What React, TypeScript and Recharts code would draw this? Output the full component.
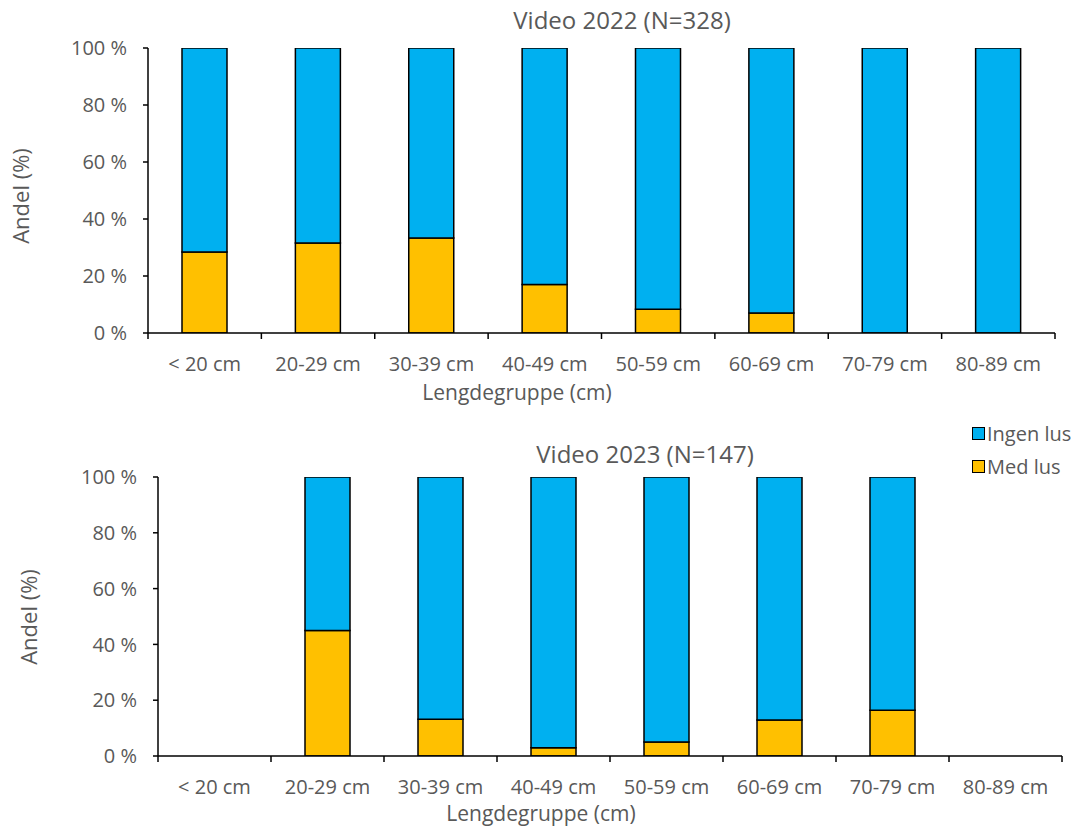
import React from "react"
import { BarChart, Bar, XAxis, YAxis, Legend, Label } from "recharts"

const categories = ["< 20 cm", "20-29 cm", "30-39 cm", "40-49 cm", "50-59 cm", "60-69 cm", "70-79 cm", "80-89 cm"]

const medLus2022 = [28.4, 31.6, 33.3, 17.0, 8.3, 7.0, 0, 0]
const ingenLus2022 = [71.6, 68.4, 66.7, 83.0, 91.7, 93.0, 100, 100]

const medLus2023 = [null, 45.0, 13.2, 3.0, 5.0, 12.9, 16.4, null]
const ingenLus2023 = [null, 55.0, 86.8, 97.0, 95.0, 87.1, 83.6, null]

const yTicks = [0, 20, 40, 60, 80, 100]

const BLUE = "#00B0F0"
const YELLOW = "#FFC000"
const TEXT = "#595959"
const FONT = "'Open Sans', sans-serif"

interface PanelProps {
  title: string
  med: (number | null)[]
  ingen: (number | null)[]
  height: number
  plotLeft: number
  plotRight: number
  plotTop: number
  plotBottom: number
  titleX: number
  titleY: number
  xLabelX: number
  xLabelY: number
  yLabelX: number
  yLabelY: number
  showLegend?: boolean
}

function LegendBox({ payload }: any) {
  const items = [...(payload ?? [])].sort((a: any, b: any) => String(a.value).localeCompare(String(b.value)))
  return (
    <div style={{ fontFamily: FONT, fontSize: 20, color: TEXT, whiteSpace: "nowrap" }}>
      {items.map((it: any) => (
        <div key={it.value} style={{ display: "flex", alignItems: "center", height: 33 }}>
          <span
            style={{
              display: "inline-block",
              width: 11,
              height: 11,
              background: it.color,
              border: "1.5px solid #000",
              marginRight: 2,
            }}
          />
          <span>{it.value}</span>
        </div>
      ))}
    </div>
  )
}

function Panel(p: PanelProps) {
  const data = categories.map((c, i) => ({ name: c, med: p.med[i], ingen: p.ingen[i] }))
  const bw = (p.plotRight - p.plotLeft) / categories.length
  const lastIndex = categories.length - 1

  const renderTick = (props: any) => {
    const { x, y, payload, index } = props
    return (
      <g>
        <line x1={x - bw / 2} x2={x - bw / 2} y1={y} y2={y + 6} stroke="#000" strokeWidth={1.5} />
        {index === lastIndex && (
          <line x1={x + bw / 2} x2={x + bw / 2} y1={y} y2={y + 6} stroke="#000" strokeWidth={1.5} />
        )}
        <text x={x} y={y + 38} textAnchor="middle" fill={TEXT} fontSize={20} fontFamily={FONT}>
          {payload.value}
        </text>
      </g>
    )
  }

  return (
    <BarChart
      width={1078}
      height={p.height}
      data={data}
      margin={{ top: p.plotTop, right: 1078 - p.plotRight, bottom: 0, left: 0 }}
      style={{ fontFamily: FONT }}
    >
      <XAxis
        dataKey="name"
        interval={0}
        tickLine={false}
        tickSize={0}
        tickMargin={0}
        axisLine={{ stroke: "#000", strokeWidth: 1.5 }}
        tick={renderTick}
        height={p.height - p.plotBottom}
      >
        <Label
          content={() => (
            <text x={p.xLabelX} y={p.xLabelY} textAnchor="middle" fill={TEXT} fontSize={21} fontFamily={FONT}>
              Lengdegruppe (cm)
            </text>
          )}
        />
      </XAxis>
      <YAxis
        width={p.plotLeft}
        domain={[0, 100]}
        ticks={yTicks}
        allowDataOverflow
        tickFormatter={(v: number) => `${v} %`}
        tick={{ fill: TEXT, fontSize: 20, fontFamily: FONT }}
        tickLine={{ stroke: "#000", strokeWidth: 1.5 }}
        tickSize={5}
        tickMargin={16}
        axisLine={{ stroke: "#000", strokeWidth: 1.5 }}
      >
        <Label
          content={() => (
            <g>
              <text
                x={p.yLabelX}
                y={p.yLabelY}
                transform={`rotate(-90, ${p.yLabelX}, ${p.yLabelY})`}
                textAnchor="middle"
                fill={TEXT}
                fontSize={22}
                fontFamily={FONT}
              >
                Andel (%)
              </text>
              <text x={p.titleX} y={p.titleY} textAnchor="middle" fill={TEXT} fontSize={24} fontFamily={FONT}>
                {p.title}
              </text>
            </g>
          )}
        />
      </YAxis>
      {p.showLegend && (
        <Legend
          layout="vertical"
          align="center"
          verticalAlign="middle"
          content={<LegendBox />}
          wrapperStyle={{ top: 12, left: 972, width: 106 }}
        />
      )}
      <Bar
        dataKey="med"
        name="Med lus"
        stackId="a"
        fill={YELLOW}
        stroke="#000"
        strokeWidth={1.5}
        barSize={45}
        isAnimationActive={false}
      />
      <Bar
        dataKey="ingen"
        name="Ingen lus"
        stackId="a"
        fill={BLUE}
        stroke="#000"
        strokeWidth={1.5}
        barSize={45}
        isAnimationActive={false}
      />
    </BarChart>
  )
}

export default function App() {
  return (
    <div style={{ position: "fixed", top: 0, left: 0, width: 1078, height: 827, background: "#fff" }}>
      <div style={{ position: "absolute", top: 0, left: 0 }}>
        <Panel
          title="Video 2022 (N=328)"
          med={medLus2022}
          ingen={ingenLus2022}
          height={405}
          plotLeft={148}
          plotRight={1055}
          plotTop={48}
          plotBottom={333}
          titleX={622}
          titleY={29}
          xLabelX={517}
          xLabelY={400}
          yLabelX={29}
          yLabelY={196}
        />
      </div>
      <div style={{ position: "absolute", top: 405, left: 0 }}>
        <Panel
          title="Video 2023 (N=147)"
          med={medLus2023}
          ingen={ingenLus2023}
          height={422}
          plotLeft={158}
          plotRight={1062}
          plotTop={72}
          plotBottom={351}
          titleX={645}
          titleY={58}
          xLabelX={541}
          xLabelY={416}
          yLabelX={37}
          yLabelY={212}
          showLegend
        />
      </div>
    </div>
  )
}
